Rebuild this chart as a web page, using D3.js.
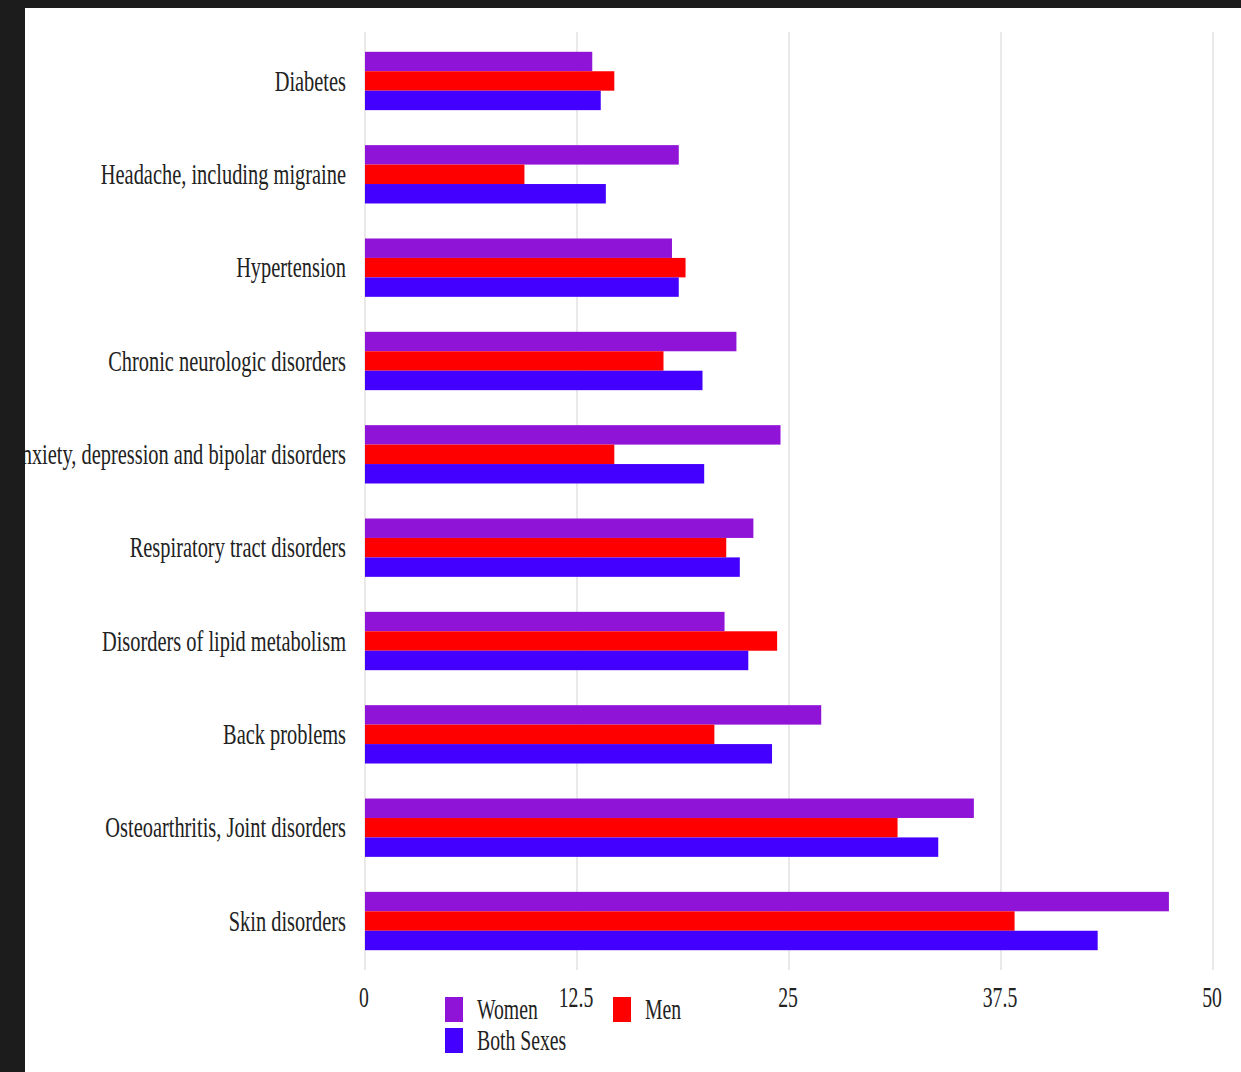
<!DOCTYPE html>
<html><head><meta charset="utf-8">
<script src="https://cdn.jsdelivr.net/npm/d3@7"></script>
<style>
html,body{margin:0;padding:0;background:#1c1c1c;}
svg{display:block;}
</style></head>
<body>
<svg id="chart" width="1241" height="1072"></svg>
<script>
const categories = ["Diabetes","Headache, including migraine","Hypertension","Chronic neurologic disorders","Anxiety, depression and bipolar disorders","Respiratory tract disorders","Disorders of lipid metabolism","Back problems","Osteoarthritis, Joint disorders","Skin disorders"];
const seriesNames = ["Women","Men","Both Sexes"];
const seriesColors = ["#9013D8","#FF0000","#4400FF"];
const women = [13.4, 18.5, 18.1, 21.9, 24.5, 22.9, 21.2, 26.9, 35.9, 47.4];
const men   = [14.7, 9.4, 18.9, 17.6, 14.7, 21.3, 24.3, 20.6, 31.4, 38.3];
const both  = [13.9, 14.2, 18.5, 19.9, 20.0, 22.1, 22.6, 24.0, 33.8, 43.2];
const tickValues = [0, 12.5, 25, 37.5, 50];
const tickLabels = ["0","12.5","25","37.5","50"];

const seriesValues = [women, men, both];
const svg = d3.select("#chart");
svg.append("rect").attr("x",0).attr("y",0).attr("width",1241).attr("height",1072).attr("fill","#1c1c1c");
svg.append("rect").attr("x",25).attr("y",8).attr("width",1216).attr("height",1064).attr("fill","#ffffff");
svg.append("clipPath").attr("id","clip").append("rect").attr("x",25).attr("y",8).attr("width",1216).attr("height",1064);
const g = svg.append("g").attr("clip-path","url(#clip)");

const x = d3.scaleLinear().domain([0,50]).range([365,1213]);
const y = d3.scaleBand().domain(categories).range([34.3,967.7]).paddingInner(0.375).paddingOuter(0.1875);
const ys = d3.scaleBand().domain(seriesNames).range([0,y.bandwidth()]);

const FONT = "'Liberation Serif','Times New Roman',serif";
const SX = 0.68;

// grid
g.append("g").selectAll("line").data(tickValues).join("line")
  .attr("x1",d=>x(d)).attr("x2",d=>x(d)).attr("y1",32).attr("y2",970)
  .attr("stroke","#e4e4e4").attr("stroke-width",1.6);

// bars
const rows = categories.map((c,i)=>({cat:c, vals:seriesNames.map((s,j)=>({s, v:seriesValues[j][i], color:seriesColors[j]}))}));
const grp = g.append("g").selectAll("g").data(rows).join("g")
  .attr("transform",d=>`translate(0,${y(d.cat)})`);
grp.selectAll("rect").data(d=>d.vals).join("rect")
  .attr("x",x(0)).attr("y",d=>ys(d.s)).attr("width",d=>x(d.v)-x(0)).attr("height",ys.bandwidth())
  .attr("fill",d=>d.color);

// category labels
g.append("g").selectAll("text").data(categories).join("text")
  .attr("transform",d=>`translate(346,${y(d)+y.bandwidth()/2}) scale(${SX},1)`)
  .attr("text-anchor","end").attr("dy","0.32em")
  .attr("font-family",FONT).attr("font-size",30).attr("fill","#222")
  .text(d=>d);

// x tick labels
g.append("g").selectAll("text").data(tickValues).join("text")
  .attr("transform",(d,i)=>`translate(${x(d)-1},1007) scale(${SX},1)`)
  .attr("text-anchor","middle")
  .attr("font-family",FONT).attr("font-size",29).attr("fill","#222")
  .text((d,i)=>tickLabels[i]);

// legend
const legendPos = [[445,997],[613,997],[445,1028]];
const lg = g.append("g").selectAll("g").data(seriesNames).join("g")
  .attr("transform",(d,i)=>`translate(${legendPos[i][0]},${legendPos[i][1]})`);
lg.append("rect").attr("width",18).attr("height",25).attr("fill",(d,i)=>seriesColors[i]);
lg.append("text").attr("transform",`translate(32,22) scale(${SX},1)`)
  .attr("font-family",FONT).attr("font-size",29).attr("fill","#222").text(d=>d);
</script>
</body></html>
